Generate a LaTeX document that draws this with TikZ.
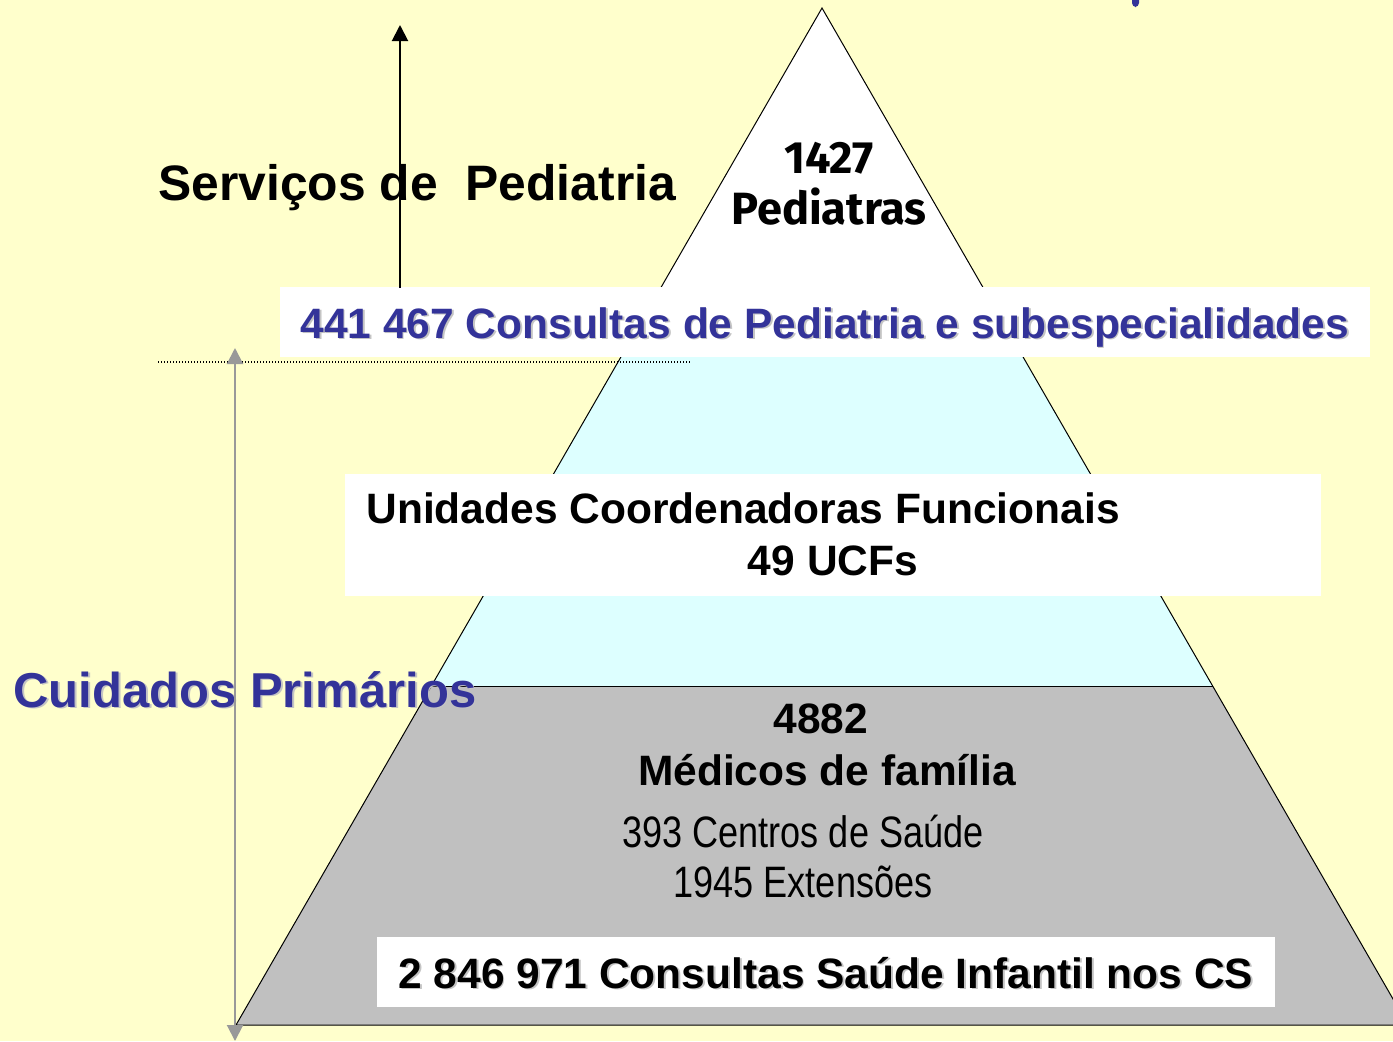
\documentclass[tikz,border=0pt]{standalone}
\usepackage{fontspec}
\setmainfont{Liberation Sans}
\newfontfamily\narrowfont[FakeStretch=0.82]{Liberation Sans}
\newfontfamily\comicfont{Fira Sans}
\usetikzlibrary{arrows.meta}
\usetikzlibrary{calc}
\definecolor{paper}{HTML}{FFFFCC}
\definecolor{lcyan}{HTML}{DDFFFF}
\definecolor{lgray}{HTML}{C0C0C0}
\definecolor{navy}{HTML}{333399}
\definecolor{shade}{HTML}{C4C4C4}
\newcommand\shtxt[1]{\rlap{\hspace{0.9pt}\raisebox{-0.9pt}{\color{shade}#1}}#1}
\tikzstyle{edge}=[draw=black,line width=0.5pt]
\tikzstyle{txt}=[inner sep=0pt,font=\bfseries\fontsize{21.25}{24}\selectfont]
\tikzstyle{big}=[inner sep=0pt,font=\bfseries\fontsize{24.9}{28}\selectfont]
\tikzstyle{thin}=[inner sep=0pt,font=\narrowfont\fontsize{22}{26}\selectfont]
\tikzstyle{comic}=[inner sep=0pt,font=\comicfont\bfseries\fontsize{22.6}{26}\selectfont]

\begin{document}
\begin{tikzpicture}[x=0.5pt,y=-0.5pt]
\clip (0,0) rectangle (1393,1041);
\fill[paper] (0,0) rectangle (1393,1041);

\coordinate (top) at (822, 8);
\coordinate (bl) at (236, 1025);
\coordinate (br) at (1408, 1025);
\coordinate (ul) at ($(top)!1/3!(bl)$);
\coordinate (ur) at ($(top)!1/3!(br)$);
\coordinate (ml) at ($(top)!2/3!(bl)$);
\coordinate (mr) at ($(top)!2/3!(br)$);

\fill[white] (top)--(ul)--(ur)--cycle;
\fill[lcyan] (ul)--(ml)--(mr)--(ur)--cycle;
\fill[lgray] (ml)--(bl)--(br)--(mr)--cycle;
\draw[edge] (top)--(bl)--(br)--cycle;
\draw[edge] (ml)--(mr);

\fill[navy, rounded corners=2] (1132,-6) rectangle (1139,7);

\fill[white] (280,287) rectangle (1370,357);
\fill[white] (345,474) rectangle (1321,596);
\fill[white] (377,937) rectangle (1275,1007);

\draw[line width=0.7pt, dash pattern=on 0.6pt off 0.9pt] (158,362)--(690,362);

\node[big, anchor=base west] (serv) at (158,200) {Serviços de\ \ Pediatria};
\node[big, anchor=base west, text=navy, font=\bfseries\fontsize{24.5}{28}\selectfont] (cuid) at (13,707) {\shtxt{Cuidados Primários}};
\node[comic, anchor=base] (n1427) at (829,173) {1427};
\node[comic, anchor=base] (ped) at (829,224) {Pediatras};
\node[txt, anchor=base west, text=navy] (cons) at (300,338) {\shtxt{441 467 Consultas de Pediatria e subespecialidades}};
\node[txt, anchor=base west] (ucf) at (366,523) {Unidades Coordenadoras Funcionais};
\node[txt, anchor=base] (n49) at (833,575) {49 UCFs};
\node[txt, anchor=base] (n4882) at (821,733) {4882};
\node[txt, anchor=base] (med) at (827,785) {Médicos de família};
\node[thin, anchor=base] (cs) at (803,847) {393 Centros de Saúde};
\node[thin, anchor=base] (ext) at (803,897) {1945 Extensões};
\node[txt, anchor=base west] (csi) at (398,988) {\shtxt{2 846 971 Consultas Saúde Infantil nos CS}};

% eixos
\coordinate (a0) at (400,288);
\coordinate (a1) at (400,25);
\draw[line width=1pt, -{Triangle[length=8pt,width=8pt]}] (a0)--(a1);
\coordinate (g0) at (235,348);
\coordinate (g1) at (235,1041);
\draw[line width=1pt, draw=gray!80, {Triangle[length=8pt,width=8pt]}-{Triangle[length=8pt,width=8pt]}] (g0)--(g1);
\end{tikzpicture}
\end{document}
